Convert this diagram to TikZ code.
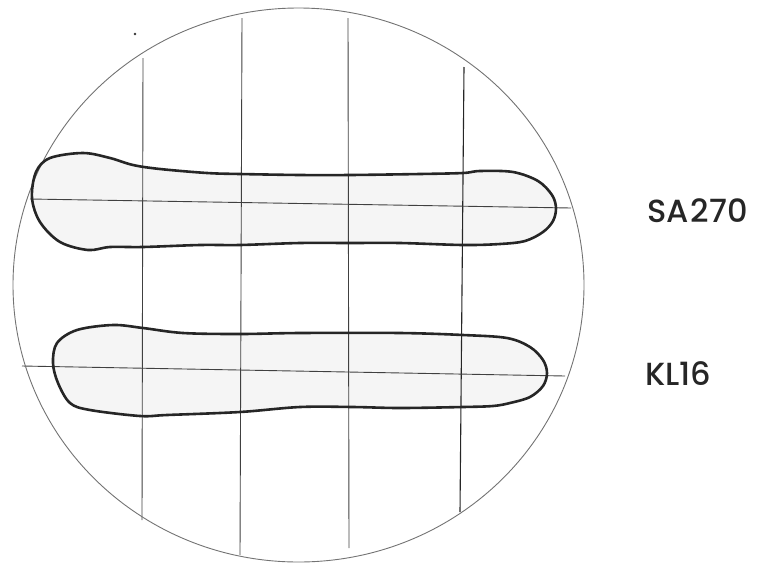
\documentclass[tikz,border=0pt]{standalone}
\usepackage{fontspec}
\setmainfont{Poppins}
\newfontfamily\lblfont{Poppins}[UprightFont=*-Medium, Extension=.ttf]
\begin{document}
\begin{tikzpicture}[x=1pt,y=-1pt,
  gridline/.style={draw=black!75, line width=0.9pt},
  rim/.style={draw=black!55, line width=0.9pt},
  blobfill/.style={fill=black!4},
  blobline/.style={draw=black!85, line width=2.6pt, line join=round},
  lbl/.style={anchor=base west, inner sep=0pt, text=black!85, font=\lblfont\fontsize{32}{32}\selectfont}]
\useasboundingbox (0,0) rectangle (760,563);
% blob fills
\fill[blobfill] plot[smooth cycle, tension=0.55] coordinates {(32,198) (36,172) (50,158) (83,153) (110,158) (133,165) (160,169) (207,173) (240,174) (300,175) (350,175) (420,174) (463,173) (480,171) (513,172) (538,181) (552,195) (556,208) (553,221) (543,232) (525,241) (500,244) (463,245) (400,243) (350,243) (300,243) (240,245) (200,245) (143,247) (110,247) (88,250) (60,242) (40,222)};
\fill[blobfill] plot[smooth cycle, tension=0.55] coordinates {(53,363) (57,343) (77,330) (113,325) (143,328) (183,333) (240,334) (300,333) (400,333) (463,335) (507,338) (530,347) (543,360) (547,373) (543,386) (530,397) (510,403) (493,406) (463,407) (400,408) (353,407) (300,407) (240,412) (167,415) (140,416) (90,410) (70,403) (58,383)};
% grid
\coordinate (v1t) at (143,58);  \coordinate (v1b) at (142,520);
\coordinate (v2t) at (242,18);  \coordinate (v2b) at (240,555);
\coordinate (v3t) at (348,18);  \coordinate (v3b) at (349,548);
\coordinate (v4t) at (464,67);  \coordinate (v4b) at (460,512);
\coordinate (h1l) at (30,199);  \coordinate (h1r) at (571,208);
\coordinate (h2l) at (22,366);  \coordinate (h2r) at (565,376);
\draw[gridline] (v1t) -- (v1b);
\draw[gridline] (v2t) -- (v2b);
\draw[gridline] (v3t) -- (v3b);
\draw[gridline, line width=1.1pt, draw=black!85] (v4t) -- (v4b);
\draw[gridline] (h1l) -- (h1r);
\draw[gridline] (h2l) -- (h2r);
% rim
\draw[rim] (298.5,285) ellipse [x radius=285.5, y radius=277];
\fill[black!80] (135,34) circle (1.3);
% blob outlines
\draw[blobline] plot[smooth cycle, tension=0.55] coordinates {(32,198) (36,172) (50,158) (83,153) (110,158) (133,165) (160,169) (207,173) (240,174) (300,175) (350,175) (420,174) (463,173) (480,171) (513,172) (538,181) (552,195) (556,208) (553,221) (543,232) (525,241) (500,244) (463,245) (400,243) (350,243) (300,243) (240,245) (200,245) (143,247) (110,247) (88,250) (60,242) (40,222)};
\draw[blobline] plot[smooth cycle, tension=0.55] coordinates {(53,363) (57,343) (77,330) (113,325) (143,328) (183,333) (240,334) (300,333) (400,333) (463,335) (507,338) (530,347) (543,360) (547,373) (543,386) (530,397) (510,403) (493,406) (463,407) (400,408) (353,407) (300,407) (240,412) (167,415) (140,416) (90,410) (70,403) (58,383)};
% labels
\node[lbl] (sa) at (647,222) {SA\kern2pt270};
\node[lbl] (kl) at (645,385) {KL16};
\end{tikzpicture}
\end{document}
